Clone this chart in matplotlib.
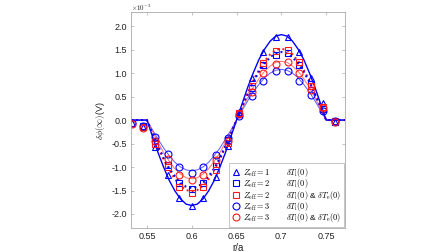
import matplotlib
matplotlib.use("Agg")
import matplotlib.pyplot as plt
from matplotlib.lines import Line2D

plt.rcParams['font.family'] = ['Liberation Sans', 'DejaVu Sans']
plt.rcParams['mathtext.fontset'] = 'cm'

# measured points (r/a, values in units of 1e-3 V)
r_pts = [0.533, 0.546, 0.559, 0.573, 0.586, 0.600, 0.613, 0.627, 0.640,
         0.653, 0.667, 0.680, 0.694, 0.707, 0.720, 0.733, 0.747, 0.760]
tri_b = [-0.07, -0.14, -0.57, -1.17, -1.67, -1.84, -1.67, -1.22, -0.55,
         0.18, 0.89, 1.45, 1.76, 1.78, 1.46, 0.89, 0.37, -0.04]
sq_b = [-0.06, -0.12, -0.45, -0.95, -1.33, -1.46, -1.33, -0.97, -0.42,
        0.14, 0.68, 1.18, 1.39, 1.42, 1.18, 0.76, 0.24, -0.04]
sq_r = [-0.07, -0.15, -0.50, -1.00, -1.42, -1.56, -1.42, -1.06, -0.48,
        0.15, 0.72, 1.21, 1.48, 1.50, 1.24, 0.72, 0.28, -0.03]
ci_b = [-0.06, -0.13, -0.37, -0.73, -1.00, -1.12, -1.00, -0.74, -0.38,
        0.08, 0.51, 0.83, 1.04, 1.04, 0.83, 0.53, 0.19, -0.03]
ci_r = [-0.08, -0.16, -0.45, -0.83, -1.16, -1.27, -1.16, -0.85, -0.45,
        0.12, 0.60, 1.00, 1.20, 1.23, 1.00, 0.64, 0.25, -0.04]

# model curves: flat zero outside 0.55-0.75, read every 0.00625 over a quarter lobe
r_line = [0.532] + [0.55 + 0.00625 * k for k in range(33)] + [0.771]
q_tri_b = [0.35, 0.70, 1.01, 1.29, 1.51, 1.68, 1.79, 1.82]
q_sq_b = [0.28, 0.55, 0.81, 1.03, 1.20, 1.34, 1.42, 1.45]
q_sq_r = [0.30, 0.58, 0.85, 1.07, 1.26, 1.40, 1.49, 1.52]
q_ci_b = [0.21, 0.41, 0.60, 0.76, 0.90, 1.00, 1.06, 1.08]
q_ci_r = [0.24, 0.48, 0.70, 0.88, 1.04, 1.15, 1.23, 1.25]


def curve(q):
    half = [0] + q + q[-2::-1] + [0]
    return [0] + [-v for v in half] + half[1:] + [0]


zeff = ['1', '2', '2', '3', '3']
temps = [r'\delta T_{\rm i}(0)$', r'\delta T_{\rm i}(0)$',
         r'\delta T_{\rm i}(0)$ & $\delta T_{\rm e}(0)$',
         r'\delta T_{\rm i}(0)$',
         r'\delta T_{\rm i}(0)$ & $\delta T_{\rm e}(0)$']
labels = [r'$Z_{\rm eff}=%s\qquad\ %s' % (z, t) for z, t in zip(zeff, temps)]

blue = '#0000ff'
red = '#ff1a1a'

fig = plt.figure(figsize=(4.48, 2.52), dpi=100)
ax = fig.add_axes([0.292, 0.095, 0.478, 0.857])

ax.plot(r_line, curve(q_ci_b), '-', color='#5a5aff', lw=0.7)
ax.plot(r_line, curve(q_ci_r), '-', color='#ff7070', lw=0.7)
ax.plot(r_line, curve(q_sq_r), ':', color=red, lw=1.4)
ax.plot(r_line, curve(q_sq_b), ':', color=blue, lw=1.4)
ax.plot(r_line, curve(q_tri_b), '-', color=blue, lw=1.0)

series = [(tri_b, '^', blue, 3.8), (sq_b, 's', blue, 4.2), (sq_r, 's', red, 4.2),
          (ci_b, 'o', blue, 5.0), (ci_r, 'o', red, 5.0)]
handles = []
for vals, m, c, ms in series:
    ax.plot(r_pts, vals, ls='none', marker=m, ms=ms, mfc='none', mec=c, mew=0.8)
    handles.append(Line2D([], [], ls='none', marker=m, ms=ms, mfc='none', mec=c, mew=0.8))

leg = ax.legend(handles, labels, loc='lower right',
                fontsize=6.0, handlelength=1.0, handletextpad=0.4,
                labelspacing=-0.2, borderpad=0.3, borderaxespad=0.15,
                fancybox=False, framealpha=1, edgecolor='#bbbbbb')
leg.get_frame().set_linewidth(0.6)

ax.set_xlim(0.532, 0.771)
ax.set_ylim(-2.3, 2.3)
ax.set_xticks([0.55, 0.6, 0.65, 0.7, 0.75])
ax.set_xticklabels(['0.55', '0.6', '0.65', '0.7', '0.75'])
ax.set_yticks([-2.0, -1.5, -1.0, -0.5, 0.0, 0.5, 1.0, 1.5, 2.0])
ax.set_yticklabels(['-2.0', '-1.5', '-1.0', '-0.5', '0.0', '0.5', '1.0', '1.5', '2.0'])
ax.tick_params(direction='in', top=True, right=True, length=2.5, width=0.5,
               labelsize=6.5, colors='#222222', pad=3)
ax.tick_params(color='#aaaaaa')
for s in ax.spines.values():
    s.set_color('#aaaaaa')
    s.set_linewidth(0.6)

ax.set_xlabel('r/a', fontsize=7, labelpad=1, color='#222222')
ax.set_ylabel(r'$\delta\phi(\infty)$(V)', fontsize=6.5, labelpad=3, color='#222222')
ax.text(0.0, 0.995, r'$\times10^{-3}$', transform=ax.transAxes, fontsize=5,
        ha='left', va='bottom', color='#222222')

fig.savefig('out.png', dpi=100)
